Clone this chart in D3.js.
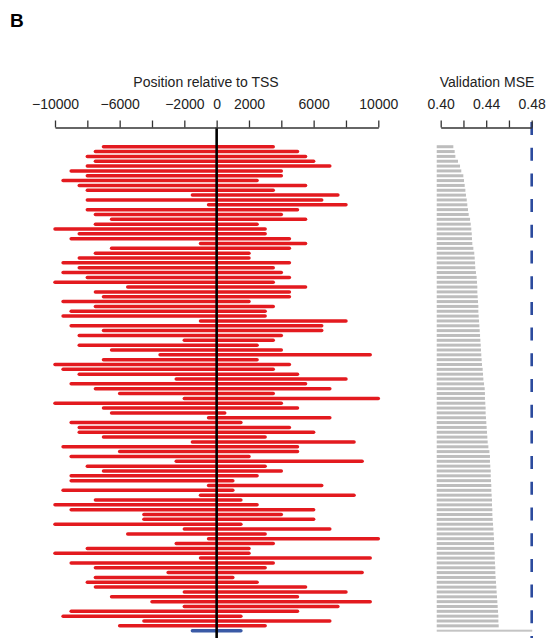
<!DOCTYPE html>
<html lang="en">

<head>
    <meta charset="utf-8">
    <title>Position relative to TSS / Validation MSE</title>
    <script type="text/javascript" src="https://cdn.jsdelivr.net/npm/d3@7"></script>
    <style type="text/css">
        body {
            margin: 0;
            background: #fff;
        }

        text {
            font-family: "Liberation Sans", Arial, sans-serif;
            fill: #222;
        }
    </style>
</head>

<body>
    <script type="text/javascript">

        var w = 549;
        var h = 638;

        // window start / end (bp relative to TSS), one per model, top to bottom
        var windowStart = [
            -7000, -7500, -8000, -7500, -8000, -9000, -8000, -9500, -8500, -8000,
            -1500, -8000, -500, -8000, -7500, -6500, -7500, -10000, -8500, -9000,
            -1000, -6500, -7500, -8500, -9500, -8500, -9500, -8000, -10000, -5500,
            -7500, -7000, -9500, -7500, -9000, -9500, -1000, -9000, -7000, -8500,
            -2000, -8500, -6500, -3500, -7000, -10000, -9500, -8500, -2500, -9000,
            -7500, -6000, -2000, -10000, -7000, -6500, -500, -9000, -8500, -8500,
            -7000, -1500, -9500, -6000, -9000, -2500, -8000, -7000, -9000, -9000,
            -500, -9500, -1000, -7500, -10000, -9000, -4500, -4500, -10000, -2000,
            -5500, -500, -2500, -8000, -10000, -1000, -9000, -7500, -3000, -7500,
            -8000, -7500, -2000, -6500, -4000, -2000, -9000, -9500, -4500, -6000
        ];
        var windowEnd = [
            3500, 5000, 5500, 6000, 7000, 4000, 4000, 2500, 5500, 3500,
            7500, 6500, 8000, 5000, 4000, 5500, 2500, 3000, 3000, 4500,
            5500, 4500, 2000, 2000, 4500, 3500, 4000, 4500, 3500, 5500,
            4500, 4500, 2000, 3500, 3000, 3000, 8000, 6500, 6500, 4000,
            3500, 2500, 4000, 9500, 2500, 4500, 3500, 5000, 8000, 5500,
            7000, 3500, 10000, 4000, 5000, 500, 7000, 1500, 4500, 6000,
            3000, 8500, 5000, 5000, 2000, 9000, 3000, 4000, 2500, 1000,
            6500, 1000, 8500, 1500, 2500, 6000, 4000, 6000, 1500, 7000,
            3000, 10000, 3500, 2000, 2000, 9500, 3500, 3000, 9000, 1000,
            2500, 5500, 8000, 5000, 9500, 7500, 5000, 1500, 7000, 3000
        ];
        var validationMse = [
            0.4111, 0.4123, 0.4129, 0.4152, 0.4170, 0.4181, 0.4199, 0.4205, 0.4211, 0.4217,
            0.4222, 0.4229, 0.4234, 0.4240, 0.4246, 0.4258, 0.4264, 0.4269, 0.4273, 0.4275,
            0.4278, 0.4287, 0.4295, 0.4299, 0.4302, 0.4304, 0.4310, 0.4316, 0.4319, 0.4322,
            0.4322, 0.4325, 0.4328, 0.4331, 0.4331, 0.4334, 0.4337, 0.4340, 0.4343, 0.4346,
            0.4349, 0.4352, 0.4354, 0.4357, 0.4360, 0.4363, 0.4369, 0.4372, 0.4375, 0.4381,
            0.4387, 0.4389, 0.4389, 0.4392, 0.4395, 0.4395, 0.4398, 0.4401, 0.4404, 0.4407,
            0.4410, 0.4413, 0.4419, 0.4428, 0.4433, 0.4433, 0.4436, 0.4440, 0.4440, 0.4442,
            0.4445, 0.4445, 0.4448, 0.4451, 0.4451, 0.4454, 0.4454, 0.4457, 0.4460, 0.4463,
            0.4466, 0.4469, 0.4469, 0.4471, 0.4475, 0.4475, 0.4477, 0.4480, 0.4480, 0.4483,
            0.4486, 0.4489, 0.4492, 0.4495, 0.4498, 0.4501, 0.4504, 0.4507, 0.4507, 0.4510
        ];

        // baseline model (last row, blue)
        var baselineWindow = [-1500, 1500];
        var baselineMse = 0.4805;
        var mseFloor = 0.3965;   // gray bars start a bit left of 0.40

        var tssTicks = d3.range(-10000, 10001, 2000);
        var tssLabels = [-10000, -6000, -2000, 0, 2000, 6000, 10000];
        var mseTicks = [0.40, 0.42, 0.44, 0.46, 0.48];
        var mseLabels = [0.40, 0.44, 0.48];

        var nRows = windowStart.length + 1;
        var axisY = 127.5;
        var fontSize = "14px";

        var xPos = d3.scaleLinear().domain([-10000, 10000]).range([55, 378.3]);
        var xMse = d3.scaleLinear().domain([0.40, 0.48]).range([440.7, 531.7]);
        var yRow = d3.scaleBand().domain(d3.range(nRows)).range([144.3, 633.1]);

        var rows = windowStart.map(function (s, i) {
            return { i: i, start: s, end: windowEnd[i], mse: validationMse[i] };
        });

        //Create SVG element
        var svg = d3.select("body")
            .append("svg")
            .attr("width", w)
            .attr("height", h);

        svg.append("text")
            .attr("x", 10)
            .attr("y", 27)
            .attr("font-size", "19px")
            .attr("font-weight", "bold")
            .style("fill", "#000")
            .text("B");

        // left panel: windows
        svg.selectAll("line.win")
            .data(rows)
            .enter()
            .append("line")
            .attr("class", "win")
            .attr("x1", function (d) { return xPos(d.start); })
            .attr("x2", function (d) { return xPos(d.end); })
            .attr("y1", function (d) { return yRow(d.i) + yRow.bandwidth() / 2; })
            .attr("y2", function (d) { return yRow(d.i) + yRow.bandwidth() / 2; })
            .attr("stroke", "#e31a1f")
            .attr("stroke-width", 3.5)
            .attr("stroke-linecap", "round");

        svg.append("line")
            .attr("x1", xPos(baselineWindow[0]))
            .attr("x2", xPos(baselineWindow[1]))
            .attr("y1", yRow(nRows - 1) + yRow.bandwidth() / 2)
            .attr("y2", yRow(nRows - 1) + yRow.bandwidth() / 2)
            .attr("stroke", "#3a5aa6")
            .attr("stroke-width", 3.5)
            .attr("stroke-linecap", "round");

        // TSS line
        svg.append("line")
            .attr("x1", xPos(0))
            .attr("x2", xPos(0))
            .attr("y1", axisY)
            .attr("y2", h)
            .attr("stroke", "#000")
            .attr("stroke-width", 2.6);

        var fmt = d3.format("d");

        var tssAxis = d3.axisTop(xPos)
            .tickValues(tssTicks)
            .tickSize(7)
            .tickSizeOuter(0)
            .tickPadding(12)
            .tickFormat(function (d) {
                return tssLabels.indexOf(d) >= 0 ? fmt(d) : "";
            });

        var gTss = svg.append("g")
            .attr("transform", "translate(0," + axisY + ")")
            .call(tssAxis);

        // right panel: validation MSE
        svg.selectAll("rect.mse")
            .data(rows)
            .enter()
            .append("rect")
            .attr("class", "mse")
            .attr("x", xMse(mseFloor))
            .attr("y", function (d) { return yRow(d.i) + yRow.bandwidth() / 2 - 1.5; })
            .attr("width", function (d) { return xMse(d.mse) - xMse(mseFloor); })
            .attr("height", 3)
            .attr("fill", "#bdbdbd");

        svg.append("rect")
            .attr("x", xMse(mseFloor))
            .attr("y", yRow(nRows - 1) + yRow.bandwidth() / 2 - 1)
            .attr("width", xMse(baselineMse) - xMse(mseFloor))
            .attr("height", 2)
            .attr("fill", "#c4c4c4");

        svg.append("line")
            .attr("x1", xMse(0.48))
            .attr("x2", xMse(0.48))
            .attr("y1", 122)
            .attr("y2", h)
            .attr("stroke", "#2c4b9e")
            .attr("stroke-width", 2.6)
            .attr("stroke-dasharray", "13,12.7");

        var mseAxis = d3.axisTop(xMse)
            .tickValues(mseTicks)
            .tickSize(7)
            .tickSizeOuter(0)
            .tickPadding(12)
            .tickFormat(function (d) {
                return mseLabels.indexOf(d) >= 0 ? d3.format(".2f")(d) : "";
            });

        var gMse = svg.append("g")
            .attr("transform", "translate(0," + axisY + ")")
            .call(mseAxis);

        [gTss, gMse].forEach(function (g) {
            g.selectAll("path, line")
                .attr("stroke", "#333")
                .attr("stroke-width", 1.3);
            g.selectAll("text")
                .attr("font-family", "'Liberation Sans', Arial, sans-serif")
                .attr("font-size", fontSize)
                .attr("fill", "#222");
        });

        svg.append("text")
            .attr("x", 206)
            .attr("y", 87)
            .attr("text-anchor", "middle")
            .attr("font-size", fontSize)
            .text("Position relative to TSS");

        svg.append("text")
            .attr("x", 487)
            .attr("y", 87)
            .attr("text-anchor", "middle")
            .attr("font-size", fontSize)
            .text("Validation MSE");

    </script>
</body>

</html>
